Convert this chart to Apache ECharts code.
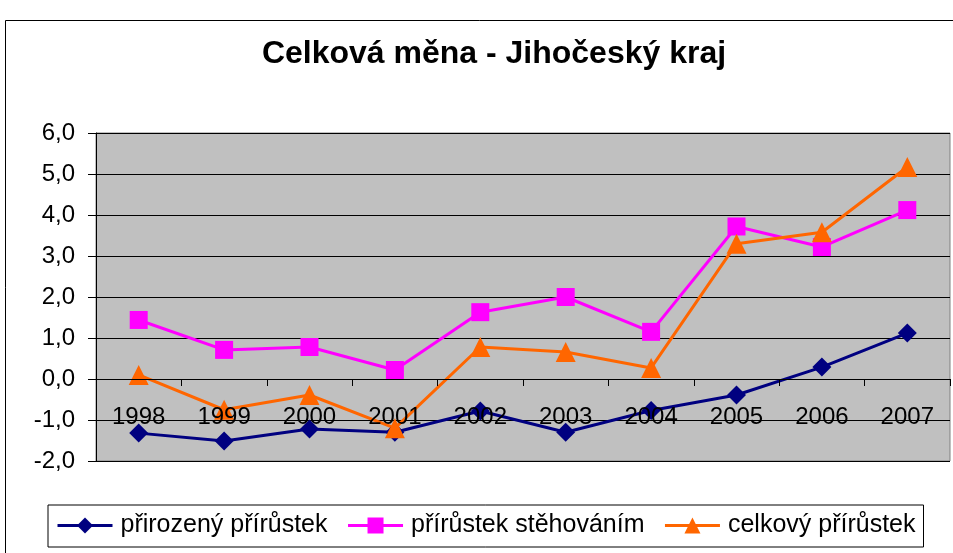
<!DOCTYPE html>
<html>
<head>
<meta charset="utf-8">
<script src="https://cdn.jsdelivr.net/npm/echarts@6/dist/echarts.min.js"></script>
<style>
  html, body { margin: 0; padding: 0; background: #fff; }
  #chart { width: 953px; height: 553px; }
</style>
</head>
<body>
<div id="chart"></div>
<script>
// data
const years = ['1998', '1999', '2000', '2001', '2002', '2003', '2004', '2005', '2006', '2007']
const prirozeny = [-1.32, -1.51, -1.22, -1.3, -0.78, -1.3, -0.77, -0.39, 0.29, 1.12]
const stehovanim = [1.44, 0.71, 0.78, 0.22, 1.63, 2.0, 1.15, 3.72, 3.22, 4.12]
const celkovy = [0.1, -0.75, -0.39, -1.2, 0.78, 0.66, 0.27, 3.3, 3.58, 5.17]
const seriesNames = ['přirozený přírůstek', 'přírůstek stěhováním', 'celkový přírůstek']

const font = 'Liberation Sans, Arial, sans-serif'
const chart = echarts.init(document.getElementById('chart'))

const makeSeries = (name, data, color, symbol, size) => ({
  name,
  type: 'line',
  data,
  symbol,
  symbolSize: size,
  lineStyle: { color, width: 3 },
  itemStyle: { color },
  animation: false
})

chart.setOption({
  backgroundColor: '#fff',
  textStyle: { fontFamily: font },
  title: {
    text: 'Celková měna - Jihočeský kraj',
    left: 489,
    textAlign: 'center',
    top: 33,
    textStyle: { fontFamily: font, fontSize: 32, fontWeight: 'bold', color: '#000' }
  },
  graphic: [
    {
      type: 'rect',
      shape: { x: 5.5, y: 20.5, width: 960, height: 560 },
      style: { fill: 'none', stroke: '#000', lineWidth: 1 },
      silent: true,
      z: -1
    }
  ],
  grid: {
    left: 96,
    right: 3,
    top: 133,
    bottom: 92,
    show: true,
    backgroundColor: '#c0c0c0',
    borderColor: '#808080',
    borderWidth: 1
  },
  legend: {
    left: 48,
    top: 505,
    itemWidth: 55,
    itemHeight: 20,
    itemGap: 19,
    padding: [8, 8, 9, 8],
    borderColor: '#000',
    borderWidth: 1,
    backgroundColor: '#fff',
    lineStyle: { width: 3 },
    textStyle: { fontFamily: font, fontSize: 25, color: '#000', padding: [0, 0, 0, 3] },
    data: seriesNames
  },
  xAxis: {
    type: 'category',
    data: years,
    boundaryGap: true,
    offset: -82,
    z: 5,
    axisLine: { onZero: false, lineStyle: { color: '#000', width: 1 } },
    axisTick: { show: true, length: 7, alignWithLabel: false, lineStyle: { color: '#000' } },
    axisLabel: { margin: 26, fontFamily: font, fontSize: 24, color: '#000' },
    splitLine: { show: false }
  },
  yAxis: {
    type: 'value',
    min: -2,
    max: 6,
    interval: 1,
    axisLine: { show: true, lineStyle: { color: '#000', width: 1 } },
    axisTick: { show: true, length: 8, lineStyle: { color: '#000' } },
    axisLabel: {
      margin: 21,
      fontFamily: font,
      fontSize: 24,
      color: '#000',
      formatter: v => v.toFixed(1).replace('.', ',')
    },
    splitLine: { show: true, lineStyle: { color: '#000', width: 1 } }
  },
  series: [
    makeSeries(seriesNames[0], prirozeny, '#000080', 'diamond', 19),
    makeSeries(seriesNames[1], stehovanim, '#ff00ff', 'rect', 18),
    makeSeries(seriesNames[2], celkovy, '#ff6600', 'triangle', 20)
  ]
})
</script>
</body>
</html>
